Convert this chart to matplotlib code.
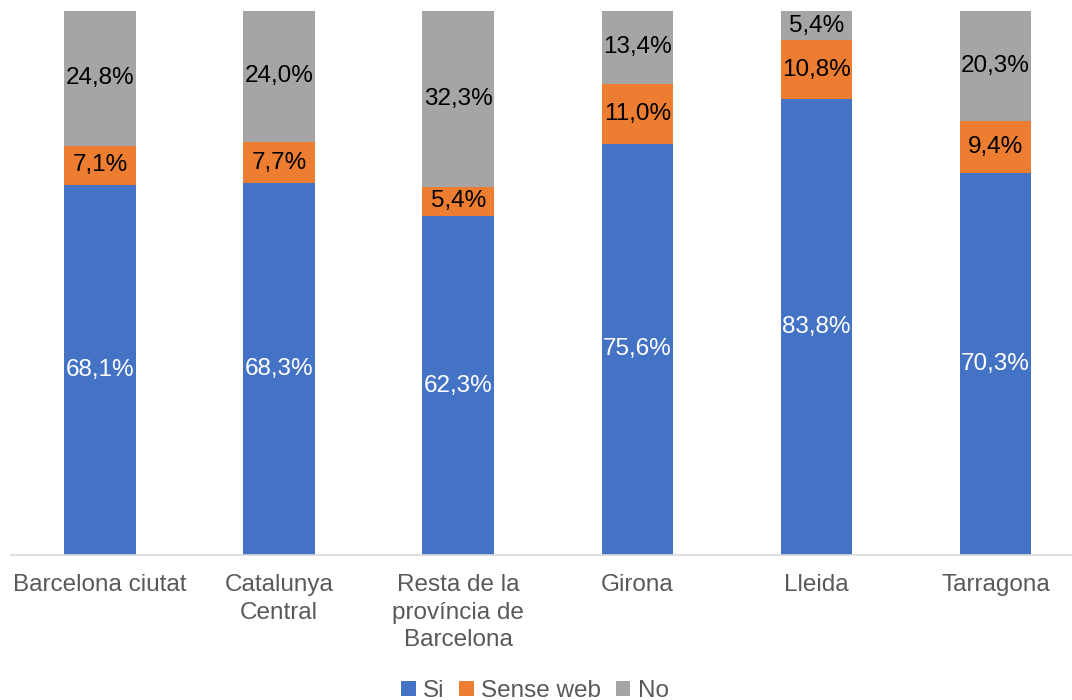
import matplotlib
matplotlib.use("Agg")
import matplotlib.pyplot as plt
import numpy as np
from matplotlib.patches import Patch

plt.rcParams["font.family"] = ["Liberation Sans", "DejaVu Sans"]

categories = ["Barcelona ciutat", "Catalunya\nCentral", "Resta de la\nprovíncia de\nBarcelona",
              "Girona", "Lleida", "Tarragona"]
si = [68.1, 68.3, 62.3, 75.6, 83.8, 70.3]
sense_web = [7.1, 7.7, 5.4, 11.0, 10.8, 9.4]
no = [24.8, 24.0, 32.3, 13.4, 5.4, 20.3]

series = [("Si", si, "#4472C4", "white"),
          ("Sense web", sense_web, "#ED7D31", "black"),
          ("No", no, "#A5A5A5", "black")]

FS = 17.5
TXT = "#595959"

fig = plt.figure(figsize=(10.72, 7.0), dpi=100)
ax = fig.add_axes([10.5 / 1072, 145 / 700, 1061.5 / 1072, 544 / 700])

x = np.arange(len(categories))
bottom = np.zeros(len(categories))
for name, vals, color, tcol in series:
    vals = np.array(vals)
    ax.bar(x, vals, width=0.4, bottom=bottom, color=color, label=name)
    for xi, b, v in zip(x, bottom, vals):
        ax.text(xi, b + v / 2, f"{v:.1f}%".replace(".", ","), ha="center", va="center",
                color=tcol, fontsize=FS)
    bottom += vals

ax.set_xlim(-0.5, -0.5 + 1061.5 / 179.1)
ax.set_ylim(0, 100)
ax.set_yticks([])
ax.set_xticks(x)
ax.set_xticklabels(categories, fontsize=FS, color=TXT, linespacing=1.32)
ax.tick_params(axis="x", length=0, pad=14)
for s in ["top", "right", "left"]:
    ax.spines[s].set_visible(False)
ax.spines["bottom"].set_color("#D9D9D9")
ax.spines["bottom"].set_linewidth(1.2)

handles = [Patch(facecolor=c, edgecolor="none", label=n) for n, _, c, _ in series]
leg = fig.legend(handles=handles, loc="center", bbox_to_anchor=(535 / 1072, 9 / 700),
                 ncol=3, frameon=False, fontsize=FS, handlelength=0.6, handleheight=0.6,
                 handletextpad=0.3, columnspacing=0.6)
for t in leg.get_texts():
    t.set_color(TXT)

fig.savefig("out.png", dpi=100)
